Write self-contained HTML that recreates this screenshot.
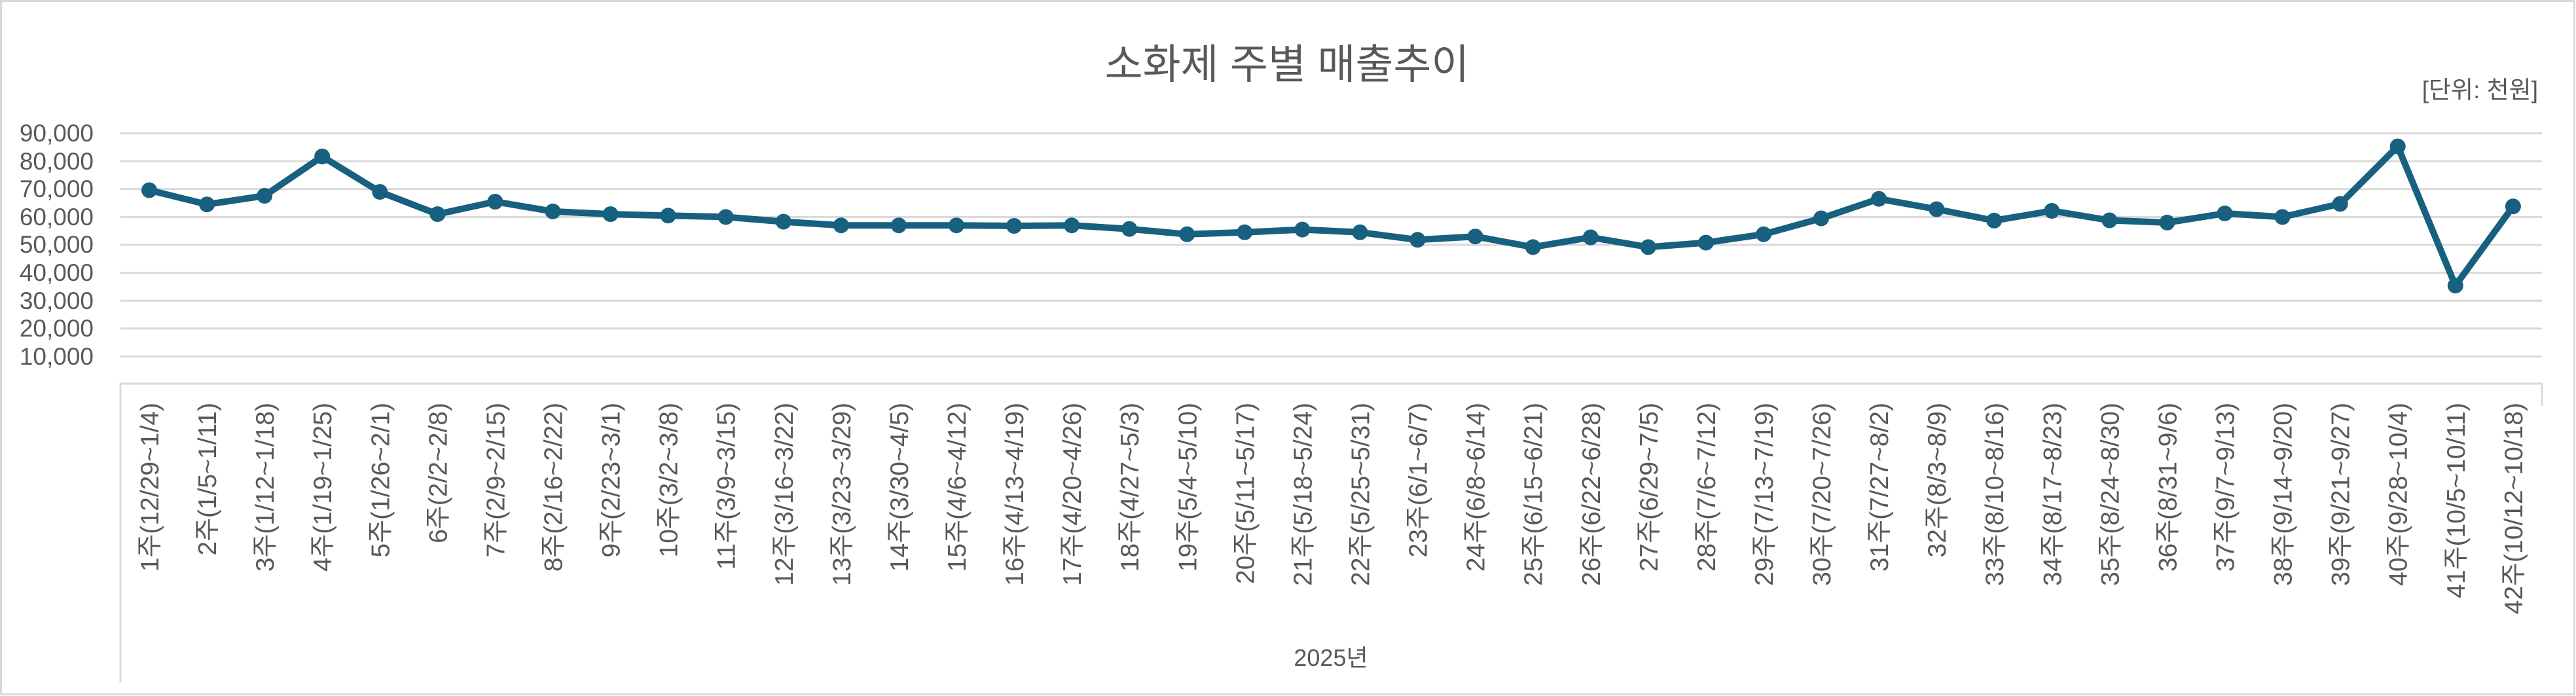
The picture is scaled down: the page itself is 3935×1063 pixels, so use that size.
<!DOCTYPE html>
<html><head><meta charset="utf-8"><style>
html,body{margin:0;padding:0;background:#fff;}
svg{display:block;}
text{font-family:"Liberation Sans","Noto Sans CJK KR",sans-serif;fill:#595959;}
</style></head><body>
<svg width="3935" height="1063" viewBox="0 0 3935 1063" xmlns="http://www.w3.org/2000/svg">
<rect x="1.5" y="1.5" width="3931" height="1059" fill="#fff" stroke="#d9d9d9" stroke-width="3"/>
<text x="1966" y="120" font-size="63" text-anchor="middle">소화제 주별 매출추이</text>
<text x="3877" y="150" font-size="37" text-anchor="end">[단위: 천원]</text>
<g stroke="#d9d9d9" stroke-width="3">
<line x1="184" x2="3883" y1="203.6" y2="203.6"/><line x1="184" x2="3883" y1="246.2" y2="246.2"/>
<line x1="184" x2="3883" y1="288.8" y2="288.8"/><line x1="184" x2="3883" y1="331.4" y2="331.4"/>
<line x1="184" x2="3883" y1="374" y2="374"/><line x1="184" x2="3883" y1="416.6" y2="416.6"/>
<line x1="184" x2="3883" y1="459.2" y2="459.2"/><line x1="184" x2="3883" y1="501.8" y2="501.8"/>
<line x1="184" x2="3883" y1="544.4" y2="544.4"/>
<polyline fill="none" points="184,1042 184,586 3883,586 3883,620"/>
</g>
<g font-size="37" text-anchor="end">
<text x="143" y="216">90,000</text><text x="143" y="259">80,000</text><text x="143" y="301">70,000</text>
<text x="143" y="344">60,000</text><text x="143" y="386">50,000</text><text x="143" y="429">40,000</text>
<text x="143" y="472">30,000</text><text x="143" y="514">20,000</text><text x="143" y="557">10,000</text>
</g>
<polyline fill="none" stroke="#17607f" stroke-width="10" stroke-linejoin="round" points="228,290.5 316.1,312.2 404.1,299 492.2,239 580.3,293.1 668.4,327.1 756.4,308 844.5,322.9 932.6,327.1 1020.6,329.3 1108.7,331.4 1196.8,338.6 1284.8,344.2 1372.9,344.2 1461,344.2 1549.1,345 1637.1,344.2 1725.2,349.7 1813.3,357.8 1901.3,354.8 1989.4,350.6 2077.5,354.8 2165.5,366.3 2253.6,361.2 2341.7,377.4 2429.8,362.5 2517.8,377.4 2605.9,370.6 2694,357.8 2782,333.5 2870.1,303.7 2958.2,319.5 3046.2,336.9 3134.3,322 3222.4,336.5 3310.5,339.9 3398.5,325.9 3486.6,331.4 3574.7,311.4 3662.7,223.6 3750.8,436.2 3838.9,315.2"/>
<g fill="#17607f">
<circle cx="228" cy="290.5" r="12"/><circle cx="316.1" cy="312.2" r="12"/><circle cx="404.1" cy="299" r="12"/><circle cx="492.2" cy="239" r="12"/><circle cx="580.3" cy="293.1" r="12"/><circle cx="668.4" cy="327.1" r="12"/><circle cx="756.4" cy="308" r="12"/><circle cx="844.5" cy="322.9" r="12"/><circle cx="932.6" cy="327.1" r="12"/><circle cx="1020.6" cy="329.3" r="12"/><circle cx="1108.7" cy="331.4" r="12"/><circle cx="1196.8" cy="338.6" r="12"/><circle cx="1284.8" cy="344.2" r="12"/><circle cx="1372.9" cy="344.2" r="12"/><circle cx="1461" cy="344.2" r="12"/><circle cx="1549.1" cy="345" r="12"/><circle cx="1637.1" cy="344.2" r="12"/><circle cx="1725.2" cy="349.7" r="12"/><circle cx="1813.3" cy="357.8" r="12"/><circle cx="1901.3" cy="354.8" r="12"/><circle cx="1989.4" cy="350.6" r="12"/><circle cx="2077.5" cy="354.8" r="12"/><circle cx="2165.5" cy="366.3" r="12"/><circle cx="2253.6" cy="361.2" r="12"/><circle cx="2341.7" cy="377.4" r="12"/><circle cx="2429.8" cy="362.5" r="12"/><circle cx="2517.8" cy="377.4" r="12"/><circle cx="2605.9" cy="370.6" r="12"/><circle cx="2694" cy="357.8" r="12"/><circle cx="2782" cy="333.5" r="12"/><circle cx="2870.1" cy="303.7" r="12"/><circle cx="2958.2" cy="319.5" r="12"/><circle cx="3046.2" cy="336.9" r="12"/><circle cx="3134.3" cy="322" r="12"/><circle cx="3222.4" cy="336.5" r="12"/><circle cx="3310.5" cy="339.9" r="12"/><circle cx="3398.5" cy="325.9" r="12"/><circle cx="3486.6" cy="331.4" r="12"/><circle cx="3574.7" cy="311.4" r="12"/><circle cx="3662.7" cy="223.6" r="12"/><circle cx="3750.8" cy="436.2" r="12"/><circle cx="3838.9" cy="315.2" r="12"/>
</g>
<g font-size="39" text-anchor="end">
<text transform="translate(242,615) rotate(-90)">1주(12/29~1/4)</text>
<text transform="translate(330.1,615) rotate(-90)">2주(1/5~1/11)</text>
<text transform="translate(418.1,615) rotate(-90)">3주(1/12~1/18)</text>
<text transform="translate(506.2,615) rotate(-90)">4주(1/19~1/25)</text>
<text transform="translate(594.3,615) rotate(-90)">5주(1/26~2/1)</text>
<text transform="translate(682.4,615) rotate(-90)">6주(2/2~2/8)</text>
<text transform="translate(770.4,615) rotate(-90)">7주(2/9~2/15)</text>
<text transform="translate(858.5,615) rotate(-90)">8주(2/16~2/22)</text>
<text transform="translate(946.6,615) rotate(-90)">9주(2/23~3/1)</text>
<text transform="translate(1034.6,615) rotate(-90)">10주(3/2~3/8)</text>
<text transform="translate(1122.7,615) rotate(-90)">11주(3/9~3/15)</text>
<text transform="translate(1210.8,615) rotate(-90)">12주(3/16~3/22)</text>
<text transform="translate(1298.8,615) rotate(-90)">13주(3/23~3/29)</text>
<text transform="translate(1386.9,615) rotate(-90)">14주(3/30~4/5)</text>
<text transform="translate(1475,615) rotate(-90)">15주(4/6~4/12)</text>
<text transform="translate(1563.1,615) rotate(-90)">16주(4/13~4/19)</text>
<text transform="translate(1651.1,615) rotate(-90)">17주(4/20~4/26)</text>
<text transform="translate(1739.2,615) rotate(-90)">18주(4/27~5/3)</text>
<text transform="translate(1827.3,615) rotate(-90)">19주(5/4~5/10)</text>
<text transform="translate(1915.3,615) rotate(-90)">20주(5/11~5/17)</text>
<text transform="translate(2003.4,615) rotate(-90)">21주(5/18~5/24)</text>
<text transform="translate(2091.5,615) rotate(-90)">22주(5/25~5/31)</text>
<text transform="translate(2179.5,615) rotate(-90)">23주(6/1~6/7)</text>
<text transform="translate(2267.6,615) rotate(-90)">24주(6/8~6/14)</text>
<text transform="translate(2355.7,615) rotate(-90)">25주(6/15~6/21)</text>
<text transform="translate(2443.8,615) rotate(-90)">26주(6/22~6/28)</text>
<text transform="translate(2531.8,615) rotate(-90)">27주(6/29~7/5)</text>
<text transform="translate(2619.9,615) rotate(-90)">28주(7/6~7/12)</text>
<text transform="translate(2708,615) rotate(-90)">29주(7/13~7/19)</text>
<text transform="translate(2796,615) rotate(-90)">30주(7/20~7/26)</text>
<text transform="translate(2884.1,615) rotate(-90)">31주(7/27~8/2)</text>
<text transform="translate(2972.2,615) rotate(-90)">32주(8/3~8/9)</text>
<text transform="translate(3060.2,615) rotate(-90)">33주(8/10~8/16)</text>
<text transform="translate(3148.3,615) rotate(-90)">34주(8/17~8/23)</text>
<text transform="translate(3236.4,615) rotate(-90)">35주(8/24~8/30)</text>
<text transform="translate(3324.5,615) rotate(-90)">36주(8/31~9/6)</text>
<text transform="translate(3412.5,615) rotate(-90)">37주(9/7~9/13)</text>
<text transform="translate(3500.6,615) rotate(-90)">38주(9/14~9/20)</text>
<text transform="translate(3588.7,615) rotate(-90)">39주(9/21~9/27)</text>
<text transform="translate(3676.7,615) rotate(-90)">40주(9/28~10/4)</text>
<text transform="translate(3764.8,615) rotate(-90)">41주(10/5~10/11)</text>
<text transform="translate(3852.9,615) rotate(-90)">42주(10/12~10/18)</text>
</g>
<text x="2033" y="1017" font-size="36" text-anchor="middle">2025년</text>
</svg>
</body></html>
